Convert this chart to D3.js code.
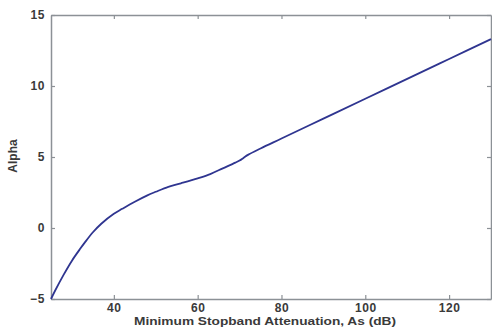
<!DOCTYPE html>
<html>
<head>
<meta charset="utf-8">
<script src="https://cdn.jsdelivr.net/npm/d3@7"></script>
<style>
  body { margin: 0; background: #fff; }
  text { font-family: "Liberation Sans", Arial, sans-serif; }
</style>
</head>
<body>
<div id="vis"></div>
<script>
const attenuation = [25, 26, 28, 30, 32, 33, 35, 37, 40, 42, 45, 48, 50, 53, 56, 60, 63, 66, 69, 70, 71, 72, 75, 80, 90, 100, 110, 120, 130];
const alpha = [-5, -4.4, -3.3, -2.3, -1.45, -1.05, -0.3, 0.3, 1.0, 1.35, 1.85, 2.3, 2.55, 2.9, 3.15, 3.5, 3.8, 4.2, 4.6, 4.75, 4.95, 5.15, 5.6, 6.3, 7.7, 9.1, 10.5, 11.9, 13.3];
const xTicks = [40, 60, 80, 100, 120];
const yTicks = [-5, 0, 5, 10, 15];

const margin = { top: 15, right: 1, bottom: 29, left: 51 };
const W = 492, H = 328;
const width = W - margin.left - margin.right;
const height = H - margin.top - margin.bottom;

const svg = d3.select("#vis").append("svg")
    .attr("width", W)
    .attr("height", H);
const g = svg.append("g").attr("transform", `translate(${margin.left},${margin.top})`);

const x = d3.scaleLinear().domain([25, 130]).range([0, width]);
const y = d3.scaleLinear().domain([-5, 15]).range([height, 0]);

const axisColor = "#8c9196";
const labelColor = "#3a3a3a";

// matlab-like box with inward ticks
function styleAxis(sel) {
    sel.select(".domain").attr("stroke", axisColor).attr("stroke-width", 1.5);
    sel.selectAll(".tick line").attr("stroke", axisColor).attr("stroke-width", 1.2);
    sel.selectAll("text").attr("fill", labelColor)
        .style("font-size", "12px").style("font-weight", "bold").style("letter-spacing", "0.6px");
}

g.append("g").attr("transform", `translate(0,${height})`)
    .call(d3.axisBottom(x).tickValues(xTicks).tickSize(-4).tickPadding(4).tickSizeOuter(0))
    .call(styleAxis);
g.append("g")
    .call(d3.axisTop(x).tickValues(xTicks).tickSize(-4).tickFormat("").tickSizeOuter(0))
    .call(styleAxis);
g.append("g")
    .call(d3.axisLeft(y).tickValues(yTicks).tickSize(-4).tickPadding(6).tickSizeOuter(0))
    .call(styleAxis);
g.append("g").attr("transform", `translate(${width},0)`)
    .call(d3.axisRight(y).tickValues(yTicks).tickSize(-4).tickFormat("").tickSizeOuter(0))
    .call(styleAxis);

const line = d3.line()
    .x((d, i) => x(attenuation[i]))
    .y(d => y(d))
    .curve(d3.curveCatmullRom);

g.append("path")
    .datum(alpha)
    .attr("fill", "none")
    .attr("stroke", "#2f3590")
    .attr("stroke-width", 1.8)
    .attr("d", line);

svg.append("text")
    .attr("x", 265)
    .attr("y", 325)
    .attr("text-anchor", "middle")
    .attr("textLength", 262)
    .attr("lengthAdjust", "spacingAndGlyphs")
    .attr("fill", labelColor)
    .style("font-size", "11px")
    .style("font-weight", "bold")
    .text("Minimum Stopband Attenuation, As (dB)");

svg.append("text")
    .attr("transform", "rotate(-90)")
    .attr("x", -156)
    .attr("y", 17)
    .attr("text-anchor", "middle")
    .attr("fill", labelColor)
    .style("font-size", "12px")
    .style("font-weight", "bold")
    .text("Alpha");
</script>
</body>
</html>
